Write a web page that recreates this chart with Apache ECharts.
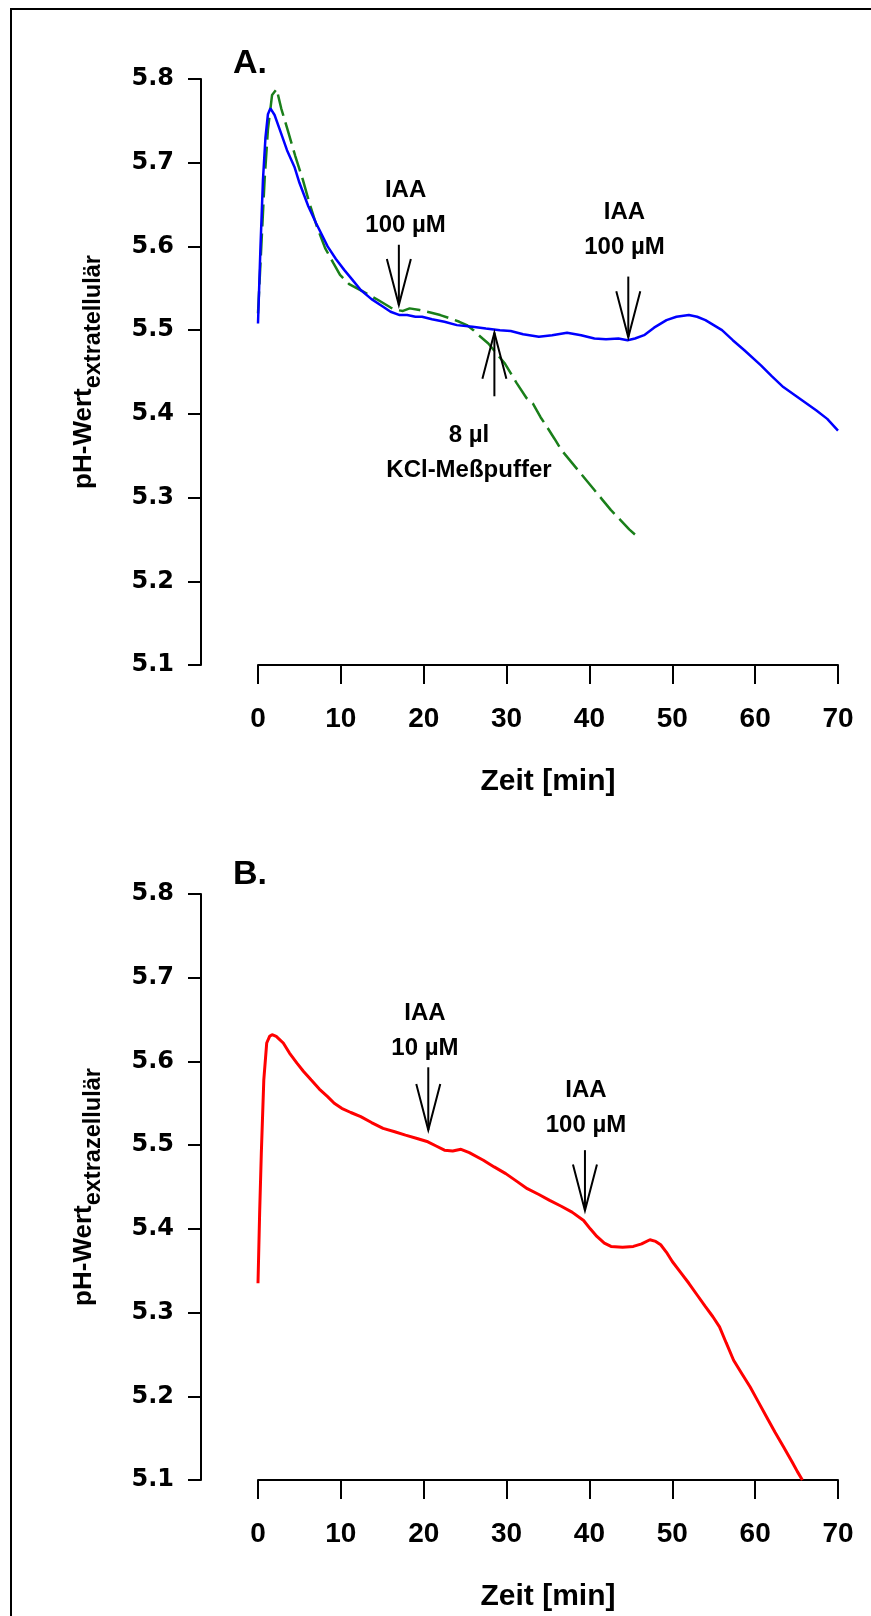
<!DOCTYPE html>
<html>
<head>
<meta charset="utf-8">
<script src="https://cdn.jsdelivr.net/npm/echarts@6/dist/echarts.min.js"></script>
<style>
html,body{margin:0;padding:0;background:#fff;}
#chart{width:871px;height:1616px;}
</style>
</head>
<body>
<div id="chart"></div>
<script>
// ---------- DATA ----------
const xTicksMin = 0, xTicksMax = 70, xInterval = 10;
const yMin = 5.1, yMax = 5.8, yInterval = 0.1;

// Panel A – blue (solid)
const blueT = [0,0.3,0.6,0.9,1.2,1.5,2.0,2.65,3.5,4.4,5.0,6.07,7.0,8.4,9.4,10.4,11.4,12.4,13.7,15.1,16.0,17.1,18.0,19.0,19.8,21.0,22.5,24.0,25.9,27.5,29.2,30.5,32.0,33.9,35.5,37.3,39.0,40.6,42.0,43.5,44.6,45.5,46.6,47.8,49.3,50.5,52.0,53.0,54.0,55.0,56.0,57.3,58.7,60.7,62.0,63.4,65.4,67.4,68.7,70.0];
const bluePH = [5.508,5.60,5.68,5.73,5.758,5.765,5.757,5.739,5.715,5.695,5.676,5.648,5.628,5.600,5.585,5.572,5.560,5.548,5.537,5.528,5.522,5.518,5.518,5.516,5.516,5.513,5.510,5.506,5.504,5.502,5.500,5.499,5.495,5.492,5.494,5.497,5.494,5.490,5.489,5.490,5.488,5.490,5.494,5.503,5.512,5.516,5.518,5.516,5.512,5.506,5.500,5.488,5.476,5.458,5.445,5.432,5.418,5.404,5.394,5.380];

// Panel A – green (dashed)
const greenT = [0,0.4,0.8,1.2,1.7,2.25,2.8,3.7,4.5,5.4,6.2,7.1,8.1,9.1,9.9,11.0,12.7,14.5,16.0,16.7,17.5,18.3,19.5,20.8,22.0,23.2,24.3,25.2,26.0,26.4,27.8,28.8,29.8,31.2,32.4,33.2,34.1,34.9,35.8,36.6,37.6,38.6,39.6,40.6,41.6,42.6,43.95,44.8,45.6];
const greenPH = [5.52,5.60,5.68,5.74,5.781,5.788,5.765,5.735,5.708,5.680,5.652,5.624,5.598,5.580,5.566,5.555,5.546,5.536,5.527,5.524,5.523,5.526,5.524,5.521,5.518,5.514,5.510,5.506,5.500,5.496,5.484,5.472,5.460,5.437,5.419,5.412,5.396,5.384,5.370,5.357,5.345,5.333,5.321,5.309,5.297,5.285,5.271,5.262,5.255];

// Panel B – red (solid)
const redT = [0,0.2,0.4,0.7,1.05,1.4,1.7,2.2,3.05,3.8,4.7,5.5,6.4,7.4,8.4,9.2,10.1,11.2,12.4,13.7,15.1,16.5,17.8,19.2,20.5,21.5,22.5,23.5,24.5,25.5,27.2,28.5,29.9,31.2,32.5,33.9,35.2,36.6,37.9,39.3,40.1,40.9,41.8,42.6,44.0,45.3,46.3,47.3,48.0,48.6,49.3,50.0,51.0,52.0,53.0,54.0,54.9,55.7,56.5,57.4,58.4,59.4,60.4,61.4,62.4,63.4,64.5,65.1,65.7];
const redPH = [5.335,5.42,5.49,5.578,5.622,5.630,5.632,5.630,5.622,5.610,5.598,5.588,5.578,5.567,5.558,5.550,5.544,5.539,5.534,5.527,5.520,5.516,5.512,5.508,5.504,5.499,5.494,5.493,5.495,5.491,5.482,5.474,5.466,5.457,5.448,5.441,5.434,5.427,5.420,5.410,5.400,5.391,5.383,5.379,5.378,5.379,5.382,5.387,5.385,5.381,5.372,5.361,5.348,5.335,5.321,5.307,5.295,5.283,5.264,5.243,5.227,5.211,5.193,5.175,5.157,5.140,5.121,5.110,5.100];

// Arrows: time, tip pH, tail pH
const arrowsA_T = [17.0, 44.69, 28.53];
const arrowsA_tip = [5.530, 5.4915, 5.497];
const arrowsA_tail = [5.602, 5.564, 5.421];
const arrowsB_T = [20.55, 39.46];
const arrowsB_tip = [5.518, 5.422];
const arrowsB_tail = [5.593, 5.494];

// Annotation labels: centre time, centre pH, text
const notesA_T = [17.81, 44.23, 25.46];
const notesA_PH = [5.6465, 5.620, 5.353];
const notesA_text = ['IAA\n100 µM', 'IAA\n100 µM', '8 µl\nKCl-Meßpuffer'];
const notesB_T = [20.15, 39.58];
const notesB_PH = [5.6365, 5.545];
const notesB_text = ['IAA\n10 µM', 'IAA\n100 µM'];

const panelLetters = ['A.', 'B.'];
const yNameSub = ['extratellulär', 'extrazellulär'];
const xName = 'Zeit [min]';
const yNameMain = 'pH-Wert';

// ---------- CHART ----------
const ARIAL = 'Liberation Sans, Arial, Helvetica, sans-serif';
const zip = (a, b) => a.map((v, i) => [v, b[i]]);

function xAxisCfg(gi) {
  return {
    gridIndex: gi, type: 'value', min: xTicksMin, max: xTicksMax, interval: xInterval,
    name: xName, nameLocation: 'middle', nameGap: 102,
    nameTextStyle: {fontFamily: ARIAL, fontWeight: 'bold', fontSize: 30, color: '#000'},
    axisLine: {show: true, onZero: false, lineStyle: {color: '#000', width: 2}},
    axisTick: {show: true, length: 19, lineStyle: {color: '#000', width: 2}},
    axisLabel: {fontFamily: ARIAL, fontWeight: 'bold', fontSize: 28, color: '#000', margin: 40},
    splitLine: {show: false}
  };
}
function yAxisCfg(gi) {
  return {
    gridIndex: gi, type: 'value', min: yMin, max: yMax, interval: yInterval, offset: 57,
    name: '{a|' + yNameMain + '}{b|' + yNameSub[gi] + '}',
    nameLocation: 'middle', nameRotate: 90, nameGap: 104,
    nameTextStyle: {
      rich: {
        a: {fontFamily: ARIAL, fontWeight: 'bold', fontSize: 26, lineHeight: 26, color: '#000', verticalAlign: 'top'},
        b: {fontFamily: ARIAL, fontWeight: 'bold', fontSize: 23.5, lineHeight: 23.5, color: '#000', verticalAlign: 'top', padding: [11, 0, 0, 0]}
      }
    },
    axisLine: {show: true, onZero: false, lineStyle: {color: '#000', width: 2}},
    axisTick: {show: true, length: 13, lineStyle: {color: '#000', width: 2}},
    axisLabel: {fontFamily: 'DejaVu Sans, sans-serif', fontWeight: 'bold', fontSize: 24, color: '#000', margin: 27,
      formatter: v => v.toFixed(1)},
    splitLine: {show: false}
  };
}

function arrowRender(params, api) {
  const tip = api.coord([api.value(0), api.value(1)]);
  const tail = api.coord([api.value(0), api.value(2)]);
  const dir = tip[1] > tail[1] ? 1 : -1;
  const headLen = 46, half = 12;
  return {
    type: 'group',
    children: [
      {type: 'line', shape: {x1: tail[0], y1: tail[1], x2: tip[0], y2: tip[1]}, style: {stroke: '#000', lineWidth: 2}},
      {type: 'polyline', shape: {points: [[tip[0] - half, tip[1] - dir * headLen], [tip[0], tip[1]], [tip[0] + half, tip[1] - dir * headLen]]},
        style: {stroke: '#000', fill: null, lineWidth: 2}}
    ]
  };
}
function noteRender(texts) {
  return function (params, api) {
    const p = api.coord([api.value(0), api.value(1)]);
    return {
      type: 'text', x: p[0], y: p[1],
      style: {text: texts[params.dataIndex], align: 'center', verticalAlign: 'middle',
        font: 'bold 24px ' + ARIAL, fill: '#000', lineHeight: 35}
    };
  };
}

const chart = echarts.init(document.getElementById('chart'), null, {renderer: 'canvas'});
chart.setOption({
  animation: false,
  backgroundColor: '#fff',
  grid: [
    {left: 258, top: 79, width: 580, height: 586},
    {left: 258, top: 894, width: 580, height: 586}
  ],
  xAxis: [xAxisCfg(0), xAxisCfg(1)],
  yAxis: [yAxisCfg(0), yAxisCfg(1)],
  series: [
    {type: 'line', xAxisIndex: 0, yAxisIndex: 0, data: zip(greenT, greenPH), showSymbol: false, symbol: 'none',
      lineStyle: {color: '#1a7f1a', width: 2.5, type: [22, 7]}, z: 2},
    {type: 'line', xAxisIndex: 0, yAxisIndex: 0, data: zip(blueT, bluePH), showSymbol: false, symbol: 'none',
      lineStyle: {color: '#0000ff', width: 2.5}, z: 3},
    {type: 'line', xAxisIndex: 1, yAxisIndex: 1, data: zip(redT, redPH), showSymbol: false, symbol: 'none',
      lineStyle: {color: '#ff0000', width: 3}, z: 3},
    {type: 'custom', xAxisIndex: 0, yAxisIndex: 0, renderItem: arrowRender, encode: {x: 0, y: [1, 2]},
      data: arrowsA_T.map((t, i) => [t, arrowsA_tip[i], arrowsA_tail[i]]), z: 5, clip: false},
    {type: 'custom', xAxisIndex: 1, yAxisIndex: 1, renderItem: arrowRender, encode: {x: 0, y: [1, 2]},
      data: arrowsB_T.map((t, i) => [t, arrowsB_tip[i], arrowsB_tail[i]]), z: 5, clip: false},
    {type: 'custom', xAxisIndex: 0, yAxisIndex: 0, renderItem: noteRender(notesA_text), encode: {x: 0, y: 1},
      data: zip(notesA_T, notesA_PH), z: 6, clip: false},
    {type: 'custom', xAxisIndex: 1, yAxisIndex: 1, renderItem: noteRender(notesB_text), encode: {x: 0, y: 1},
      data: zip(notesB_T, notesB_PH), z: 6, clip: false}
  ],
  graphic: [
    {type: 'rect', shape: {x: 11, y: 9, width: 920, height: 1700}, style: {stroke: '#000', fill: null, lineWidth: 2}, z: 10},
    {type: 'text', left: 233, top: 47, style: {text: panelLetters[0], font: 'bold 34px ' + ARIAL, fill: '#000'}},
    {type: 'text', left: 233, top: 858, style: {text: panelLetters[1], font: 'bold 34px ' + ARIAL, fill: '#000'}}
  ]
});
</script>
</body>
</html>
